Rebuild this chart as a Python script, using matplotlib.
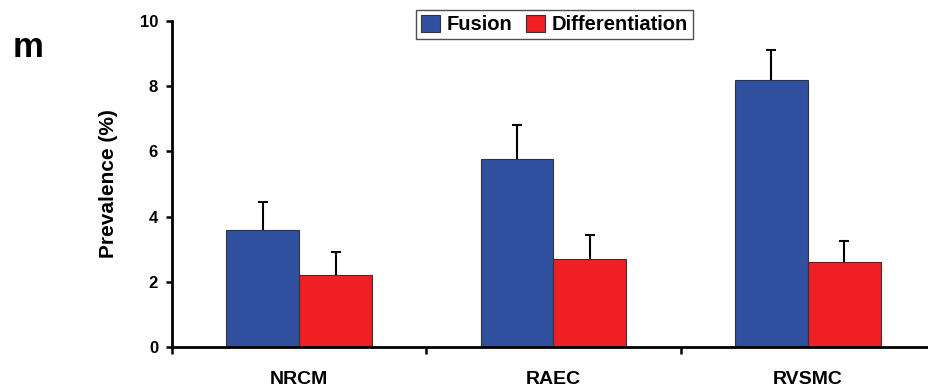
import matplotlib.pyplot as plt
import numpy as np

plt.rcParams['font.family'] = ['Liberation Sans', 'DejaVu Sans']
plt.rcParams['font.weight'] = 'bold'

cells = ["NRCM", "RAEC", "RVSMC"]
fusion = [3.6, 5.78, 8.19]
fusion_err = [0.85, 1.02, 0.93]
diff = [2.22, 2.69, 2.6]
diff_err = [0.68, 0.75, 0.64]

blue = "#3050a0"
red = "#ee2024"

fig = plt.figure(figsize=(9.29, 3.9), dpi=100)
ax = fig.add_axes([172/929, 43/390, 763/929, 326/390])

x = np.arange(len(cells))
w = 0.287
ax.bar(x - w/2, fusion, w, color=blue, edgecolor="#333333", linewidth=0.8, label="Fusion")
ax.bar(x + w/2, diff, w, color=red, edgecolor="#333333", linewidth=0.8, label="Differentiation")
# upper error bars only
for xs, vals, errs in [(x - w/2, fusion, fusion_err), (x + w/2, diff, diff_err)]:
    eb = ax.errorbar(xs, vals, yerr=[np.zeros(3), errs], fmt="none",
                     ecolor="black", elinewidth=1.5, capsize=3.5, capthick=1.5)
    eb[1][0].set_visible(False)

ax.set_xlim(-0.5, 2.5)
ax.set_ylim(0, 10)
ax.set_yticks([0, 2, 4, 6, 8, 10])
ax.set_xticks(x)
ax.set_xticklabels(cells, fontsize=14, fontweight="bold")
ax.set_xticks([-0.5, 0.5, 1.5], minor=True)
ax.tick_params(axis="x", which="major", length=0, pad=17)
ax.tick_params(axis="x", which="minor", length=5, width=1.8, direction="out")
ax.tick_params(axis="y", length=4, width=1.8, pad=6, labelsize=12)
for lab in ax.get_yticklabels():
    lab.set_fontweight("bold")

for s in ["top", "right"]:
    ax.spines[s].set_visible(False)
ax.spines["left"].set_linewidth(2)
ax.spines["bottom"].set_linewidth(2)

ax.set_ylabel("Prevalence (%)", fontsize=15, fontweight="bold")
ax.yaxis.set_label_coords(-0.071, 0.5)

fig.legend(loc="upper center", bbox_to_anchor=(0.597, 0.975), ncol=2,
           fontsize=14.5, frameon=True, fancybox=False, edgecolor="#222222",
           handlelength=0.9, handleheight=0.9, handletextpad=0.35,
           columnspacing=0.7, borderpad=0.25, borderaxespad=0)

fig.text(13/929, 1 - 57/390, "m", fontsize=25, fontweight="bold")

fig.savefig("out.png", dpi=100)
